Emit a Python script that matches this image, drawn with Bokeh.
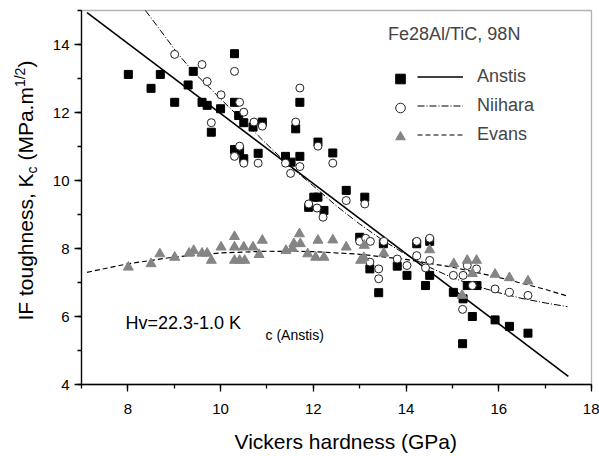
from math import pi
from bokeh.plotting import figure
from bokeh.models import (Range1d, SingleIntervalTicker, Label, Legend, LegendItem,
                          LinearAxis, BoxAnnotation)
from bokeh.core.properties import value
from bokeh.embed import file_html
from bokeh.resources import INLINE

FONT = "Liberation Sans"

# ---- data ----
anstis_hv = [8.01, 8.70, 8.50, 9.01, 9.30, 9.41, 9.60, 9.71, 10.00, 9.80, 10.30, 10.30,
             10.39, 10.50, 10.90, 10.70, 10.30, 10.41, 10.50, 10.81, 11.71, 11.62, 11.40,
             11.71, 11.52, 12.10, 12.42, 12.01, 12.10, 11.90, 12.23, 12.71, 13.11, 13.00,
             13.51, 13.22, 13.81, 13.41, 14.02, 14.23, 14.51, 14.51, 14.42, 15.02, 15.23,
             15.32, 15.53, 15.43, 15.22, 15.92, 16.23, 16.63]
anstis_kc = [13.12, 13.12, 12.71, 12.30, 12.81, 13.21, 12.30, 12.21, 12.11, 11.42, 13.73, 12.30,
             11.91, 11.70, 11.72, 11.57, 10.91, 10.88, 10.64, 10.80, 12.30, 11.52, 10.71,
             10.71, 10.54, 11.13, 10.81, 9.51, 9.51, 9.21, 9.12, 9.71, 9.51, 8.33,
             8.14, 7.40, 7.48, 6.70, 7.21, 8.14, 8.21, 7.21, 6.91, 6.71, 6.52,
             6.91, 6.91, 6.00, 5.20, 5.90, 5.71, 5.51]

niihara_hv = [9.01, 9.60, 9.71, 10.01, 9.80, 10.30, 10.41, 10.50, 10.72, 10.90, 10.41, 10.30,
              10.50, 10.81, 11.71, 11.62, 11.40, 11.71, 11.51, 12.10, 12.42, 11.90, 12.08,
              12.21, 12.71, 13.11, 13.00, 13.13, 13.23, 13.52, 13.22, 13.41, 13.41, 13.81,
              14.02, 14.23, 14.23, 14.42, 14.51, 14.51, 15.02, 15.23, 15.32, 15.43, 15.52,
              15.22, 15.92, 16.23, 16.63]
niihara_kc = [13.71, 13.41, 12.91, 12.52, 11.70, 13.21, 12.30, 12.01, 11.72, 11.60, 11.01, 10.71,
              10.51, 10.51, 12.72, 11.72, 10.51, 10.41, 10.21, 11.01, 10.51, 9.31, 9.19,
              8.92, 9.41, 9.31, 8.21, 8.30, 8.21, 8.21, 7.60, 7.40, 7.11, 7.69,
              7.50, 8.21, 7.79, 7.43, 8.30, 7.65, 7.21, 7.21, 7.50, 6.91, 7.40,
              6.21, 6.81, 6.71, 6.62]

evans_hv = [8.01, 8.50, 8.69, 9.01, 9.32, 9.42, 9.60, 9.71, 9.80, 10.01, 10.30, 10.30, 10.50,
            10.70, 10.90, 10.30, 10.41, 10.52, 10.83, 11.41, 11.58, 11.72, 11.70, 11.55,
            12.10, 11.88, 12.05, 12.23, 12.42, 12.71, 13.02, 13.09, 13.10, 13.52, 14.51,
            15.03, 15.32, 15.52, 15.43, 15.21, 15.92, 16.23, 16.63]
evans_kc = [7.45, 7.55, 7.84, 7.74, 7.86, 7.94, 7.86, 7.86, 7.65, 8.04, 8.35, 8.04, 8.04,
            8.04, 8.24, 7.65, 7.65, 7.65, 7.82, 7.94, 8.14, 8.14, 8.43, 8.00,
            8.24, 7.84, 7.74, 7.74, 8.25, 8.04, 7.65, 7.73, 8.09, 7.86, 7.96,
            7.55, 7.65, 7.65, 7.26, 6.62, 7.24, 7.14, 7.04]

# fitted curves
anstis_fit_hv = [7.12, 17.50]
anstis_fit_kc = [14.94, 4.24]
niihara_fit_hv = [8.38, 8.70, 9.06, 9.42, 9.71, 10.00, 10.36, 10.72, 11.10, 11.50, 12.00,
                  12.50, 13.00, 13.50, 14.00, 14.50, 15.00, 15.50, 16.00, 16.50, 17.00, 17.48]
niihara_fit_kc = [15.00, 14.42, 13.76, 13.18, 12.80, 12.40, 11.92, 11.44, 10.93, 10.42, 9.84,
                  9.25, 8.72, 8.24, 7.82, 7.45, 7.14, 6.90, 6.70, 6.53, 6.40, 6.29]
evans_fit_hv = [7.12, 8.0, 9.0, 10.0, 11.0, 12.0, 13.0, 14.0, 15.0, 16.0, 17.0, 17.48]
evans_fit_kc = [7.30, 7.55, 7.75, 7.87, 7.92, 7.91, 7.83, 7.68, 7.45, 7.15, 6.80, 6.60]

legend_title = "Fe28Al/TiC, 98N"
series_names = ["Anstis", "Niihara", "Evans"]
x_title = "Vickers hardness (GPa)"

# axis extents
X0, X1 = 7, 18
Y0, Y1 = 4, 15

W, H = 599, 456
# plot box position on the page (pixels from top-left)
BL, BR, BT, BB = 81, 591, 10, 384
sx = (X1 - X0) / (BR - BL)
sy = (Y1 - Y0) / (BB - BT)
x_range = Range1d(X0 - BL * sx, X1 + (W - BR) * sx)
y_range = Range1d(Y0 - (H - BB) * sy, Y1 + BT * sy)

p = figure(width=W, height=H, x_range=x_range, y_range=y_range,
           x_axis_type=None, y_axis_type=None,
           output_backend="svg", toolbar_location=None, min_border=0)
p.xgrid.visible = False
p.ygrid.visible = False
p.outline_line_color = None
p.background_fill_color = "white"
p.border_fill_color = "white"

xax = LinearAxis(fixed_location=Y0, bounds=(X0, X1))
yax = LinearAxis(fixed_location=X0, bounds=(Y0, Y1))
for ax in (xax, yax):
    ax.ticker = SingleIntervalTicker(interval=2, num_minor_ticks=2)
    ax.major_tick_in = 0
    ax.major_tick_out = 7
    ax.minor_tick_in = 0
    ax.minor_tick_out = 4
    ax.axis_line_width = 1.3
    ax.major_tick_line_width = 1.3
    ax.minor_tick_line_width = 1.3
    ax.major_label_text_font = FONT
    ax.major_label_text_font_size = "15px"
    ax.major_label_text_color = "black"
xax.major_label_standoff = 12
yax.major_label_standoff = 5
p.add_layout(xax, "below")
p.add_layout(yax, "left")

# plot box (top and right edges)
p.add_layout(BoxAnnotation(left=X0, right=X1, bottom=Y0, top=Y1, fill_alpha=0,
                           line_color="black", line_width=1.3))

# fit lines
r_a = p.line(anstis_fit_hv, anstis_fit_kc, line_color="black", line_width=1.6)
r_n = p.line(niihara_fit_hv, niihara_fit_kc, line_color="black", line_width=1.0,
             line_dash="7 2 1 2")
r_e = p.line(evans_fit_hv, evans_fit_kc, line_color="black", line_width=1.2,
             line_dash="5 3")

# points
s_a = p.scatter(anstis_hv, anstis_kc, marker="square", size=8,
                fill_color="black", line_color="black")
s_n = p.scatter(niihara_hv, niihara_kc, marker="circle", size=8,
                fill_color="white", line_color="#222222", line_width=1)
s_e = p.scatter(evans_hv, evans_kc, marker="triangle", size=10,
                fill_color="#858585", line_color="#858585")

# legend: symbols column (with title) and line column
leg_sym = Legend(items=[LegendItem(label=value(" "), renderers=[s_a]),
                        LegendItem(label=value(" "), renderers=[s_n]),
                        LegendItem(label=value(" "), renderers=[s_e])],
                 title=legend_title, location=(388, 307),
                 glyph_width=24, glyph_height=25, spacing=4, padding=0, margin=0,
                 label_width=0, label_height=0, label_standoff=0,
                 border_line_color=None, background_fill_alpha=0,
                 title_text_font=FONT, title_text_font_size="18px",
                 title_text_font_style="normal", title_standoff=21,
                 label_text_font=FONT, label_text_font_size="18px")
leg_line = Legend(items=[LegendItem(label=value(series_names[0]), renderers=[r_a]),
                         LegendItem(label=value(series_names[1]), renderers=[r_n]),
                         LegendItem(label=value(series_names[2]), renderers=[r_e])],
                  location=(417, 309),
                  glyph_width=46, glyph_height=25, spacing=4, padding=0, margin=0,
                  label_height=0, label_standoff=14,
                  border_line_color=None, background_fill_alpha=0,
                  label_text_font=FONT, label_text_font_size="18px")
p.add_layout(leg_sym)
p.add_layout(leg_line)

def lab(text, px, py, size, angle=0.0):
    # px, py: baseline start in page pixels from top-left.
    # The rendered text sits about a third of its size below the anchor, so
    # the anchor is moved back by that amount along the text's "down" direction.
    k = 0.33 * size
    if angle == 0.0:
        ax_, ay_ = px, py - k
    else:
        ax_, ay_ = px - k, py
    p.add_layout(Label(x=ax_, y=H - ay_, x_units="screen", y_units="screen", text=text,
                       text_font=FONT, text_font_size=f"{size}px", text_color="black",
                       text_align="left", text_baseline="alphabetic", angle=angle))

# x-axis title
lab(x_title, 234, 448, 21)

# y-axis title built from pieces (reads bottom to top)
pieces = [("IF toughness, K", 32, 21, 7.004 * 21),
          ("c", 36, 14, 0.500 * 14 + 0.278 * 21),
          ("(MPa.m", 32, 21, 3.500 * 21),
          ("1/2", 24, 14, 1.390 * 14),
          (")", 32, 21, 0.333 * 21)]
py = 320.0
for t, bx, fs, w in pieces:
    lab(t, bx, py, fs, angle=pi / 2)
    py -= w

# regression annotation
lab("Hv=22.3-1.0 K", 125, 328, 18)
lab("c (Anstis)", 265, 339, 14)

open("out.html", "w").write(file_html(p, INLINE))
